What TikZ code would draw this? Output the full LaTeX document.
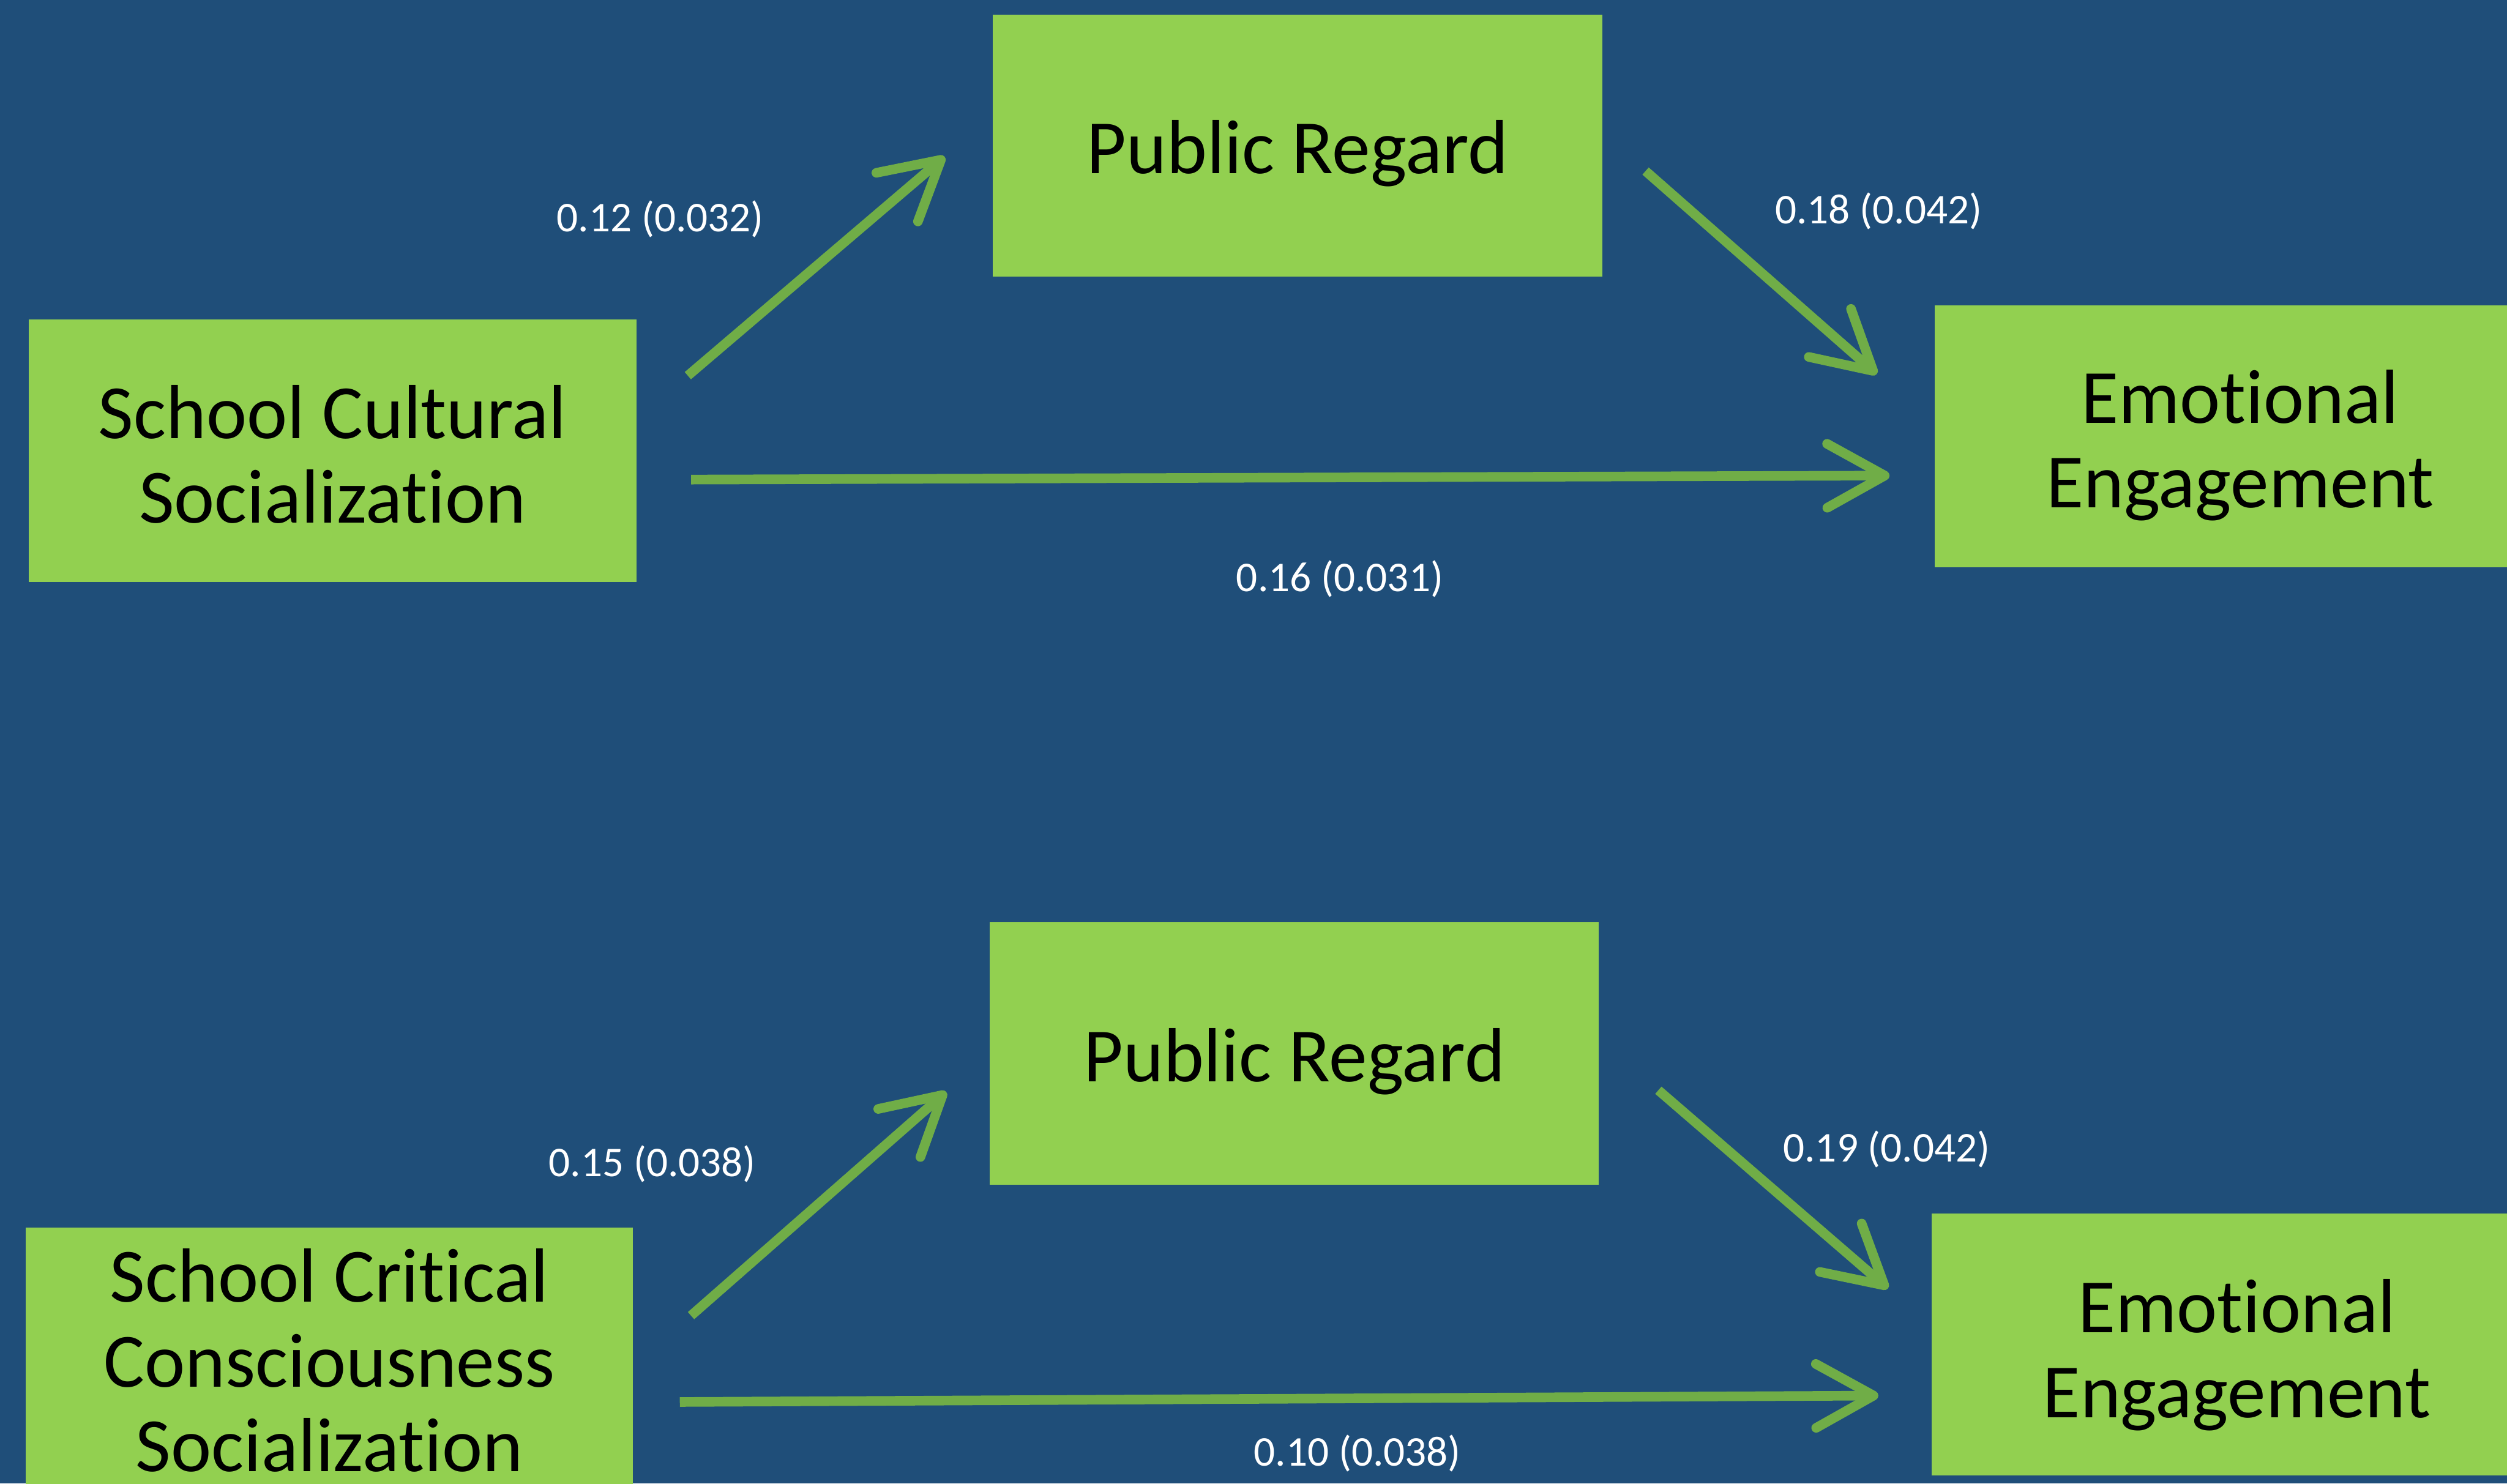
\documentclass[tikz,border=0pt]{standalone}
\usepackage{fontspec}
\setmainfont{Carlito}[Ligatures=NoCommon]
\usetikzlibrary{arrows.meta}
\definecolor{bgblue}{HTML}{1F4E79}
\definecolor{boxgreen}{HTML}{92D050}
\definecolor{arrgreen}{HTML}{70AD47}
\newcommand\bxt[2][-7pt]{\raisebox{#1}[\height][\depth]{\begin{tabular}{@{}c@{}}#2\end{tabular}}}
\begin{document}
\begin{tikzpicture}[x=1pt,y=-1pt,
  box/.style={fill=boxgreen, draw=none, inner sep=0pt,
    font=\fontsize{48}{53}\selectfont, text=black},
  lbl/.style={font=\fontsize{26.5}{30}\selectfont, text=white, inner sep=0pt},
  arr/.style={draw=arrgreen, line width=6pt,
    -{Straight Barb[length=36pt,width=40pt,round]}}]
\useasboundingbox (0,0) rectangle (1568,928);
\fill[bgblue] (0,0) rectangle (1568,928);
% top diagram
\node[box, minimum width=380pt, minimum height=164pt] (scs) at (208,282) {\bxt[-8pt]{School Cultural\\Socialization}};
\node[box, minimum width=381pt, minimum height=164pt] (pra) at (811.5,91) {\bxt[-7pt]{Public Regard}};
\node[box, minimum width=382pt, minimum height=164pt] (eea) at (1401,273) {\bxt[-7.5pt]{Emotional\\Engagement}};
% bottom diagram
\node[box, minimum width=380pt, minimum height=164pt] (sccs) at (206,850) {\bxt[-7pt]{School Critical\\Consciousness\\Socialization}};
\node[box, minimum width=381pt, minimum height=164pt] (prb) at (809.5,659) {\bxt[-7pt]{Public Regard}};
\node[box, minimum width=382pt, minimum height=164pt] (eeb) at (1399,841) {\bxt[-8.5pt]{Emotional\\Engagement}};
% arrows top
\draw[arr] ([xshift=32pt,yshift=47pt]scs.east) -- ([xshift=-30pt,yshift=-7pt]pra.west);
\draw[arr] ([xshift=34pt,yshift=-18pt]scs.east) -- ([xshift=-28pt,yshift=-24.5pt]eea.west);
\draw[arr] ([xshift=27pt,yshift=-16pt]pra.east) -- ([xshift=-36pt,yshift=39pt]eea.west);
% arrows bottom
\draw[arr] ([xshift=36pt,yshift=27pt]sccs.east) -- ([xshift=-27pt,yshift=-24pt]prb.west);
\draw[arr] ([xshift=29pt,yshift=-27pt]sccs.east) -- ([xshift=-33pt,yshift=-32pt]eeb.west);
\draw[arr] ([xshift=37pt,yshift=-23pt]prb.east) -- ([xshift=-27pt,yshift=35pt]eeb.west);
% labels
\node[lbl] (l1) at (413,137) {0.12 (0.032)};
\node[lbl] (l2) at (1175,132) {0.18 (0.042)};
\node[lbl] (l3) at (838,362) {0.16 (0.031)};
\node[lbl] (l4) at (408,728) {0.15 (0.038)};
\node[lbl] (l5) at (1180,719) {0.19 (0.042)};
\node[lbl] (l6) at (849,909) {0.10 (0.038)};
\end{tikzpicture}
\end{document}
